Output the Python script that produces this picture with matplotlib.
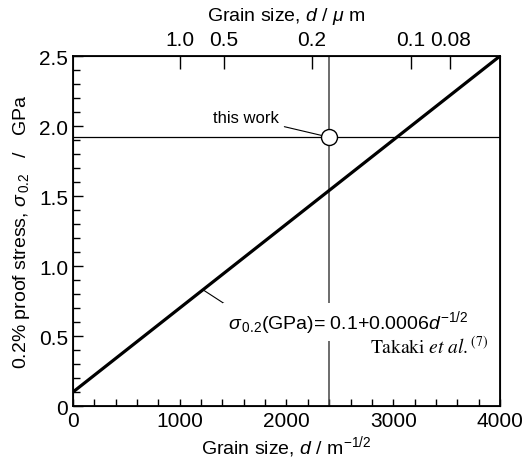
import numpy as np
import matplotlib.pyplot as plt

plt.rcParams['font.family'] = 'Liberation Sans'
plt.rcParams['mathtext.fontset'] = 'custom'
plt.rcParams['mathtext.rm'] = 'Liberation Sans'
plt.rcParams['mathtext.it'] = 'Liberation Sans:italic'

# recta de Hall-Petch (Takaki et al.)
x_fit = [0, 4000]
y_fit = [0.1, 2.5]

# este trabajo
x_work = 2400
y_work = 1.92

# eje superior: tamano de grano en micras
d_um = [1.0, 0.5, 0.2, 0.1, 0.08]
d_labels = ['1.0', '0.5', '0.2', '0.1', '0.08']

fig = plt.figure(figsize=(5.23, 4.60), dpi=100)
ax = fig.add_axes([0.1396, 0.1152, 0.8164, 0.7608])

ax.plot(x_fit, y_fit, 'k-', lw=2.3, zorder=3)
ax.axhline(y_work, color='k', lw=0.9, zorder=2)
ax.axvline(x_work, color='#444444', lw=1.1, zorder=2)
ax.plot([x_work], [y_work], 'o', ms=11.5, mfc='white', mec='k', mew=1.0, zorder=5)

ax.set_xlim(0, 4000)
ax.set_ylim(0, 2.5)
ax.set_xticks([0, 1000, 2000, 3000, 4000])
ax.set_xticks(np.arange(0, 4001, 200), minor=True)
ax.set_yticks([0, 0.5, 1.0, 1.5, 2.0, 2.5])
ax.set_yticklabels(['0', '0.5', '1.0', '1.5', '2.0', '2.5'])
ax.set_yticks(np.arange(0, 2.51, 0.1), minor=True)
ax.tick_params(which='both', direction='in', top=False, right=False, labelsize=15, width=1.0)
ax.tick_params(which='major', axis='y', length=7)
ax.tick_params(which='minor', axis='y', length=5)
ax.tick_params(which='both', axis='x', length=5)
for s in ax.spines.values():
    s.set_linewidth(1.3)

ax.set_xlabel('Grain size, $d$ / m$^{-1/2}$', fontsize=14, labelpad=2)
ax.set_ylabel('0.2% proof stress, $\\sigma_{\\,0.2}$   /   GPa', fontsize=14, labelpad=5)

# eje superior
top = ax.twiny()
top.set_xlim(0, 4000)
top.set_xticks(1 / np.sqrt(np.array(d_um) * 1e-6))
top.set_xticklabels(d_labels)
top.tick_params(direction='in', length=9, width=1.0, labelsize=15, pad=5)
top.set_xlabel('Grain size, $d$ / $\\mu$ m', fontsize=14, labelpad=7)

# anotaciones
ax.annotate('this work', xy=(x_work, y_work), xytext=(1620, 2.06),
            fontsize=12, ha='center', va='center',
            arrowprops=dict(arrowstyle='-', color='k', lw=0.8, shrinkA=2, shrinkB=5))
ax.plot([1218, 1440], [0.83, 0.72], 'k-', lw=0.8, zorder=3)
ax.text(1450, 0.6, '$\\sigma_{\\,0.2}$(GPa)= 0.1+0.0006$d^{-1/2}$', fontsize=14,
        ha='left', va='center',
        bbox=dict(boxstyle='square,pad=0.25', fc='white', ec='none'))
ax.text(3890, 0.43, '$\\mathrm{Takaki}\\ \\mathit{et\\ al.}^{(7)}$', fontsize=14,
        math_fontfamily='stix', ha='right', va='center')

fig.savefig('out.png', dpi=100)
